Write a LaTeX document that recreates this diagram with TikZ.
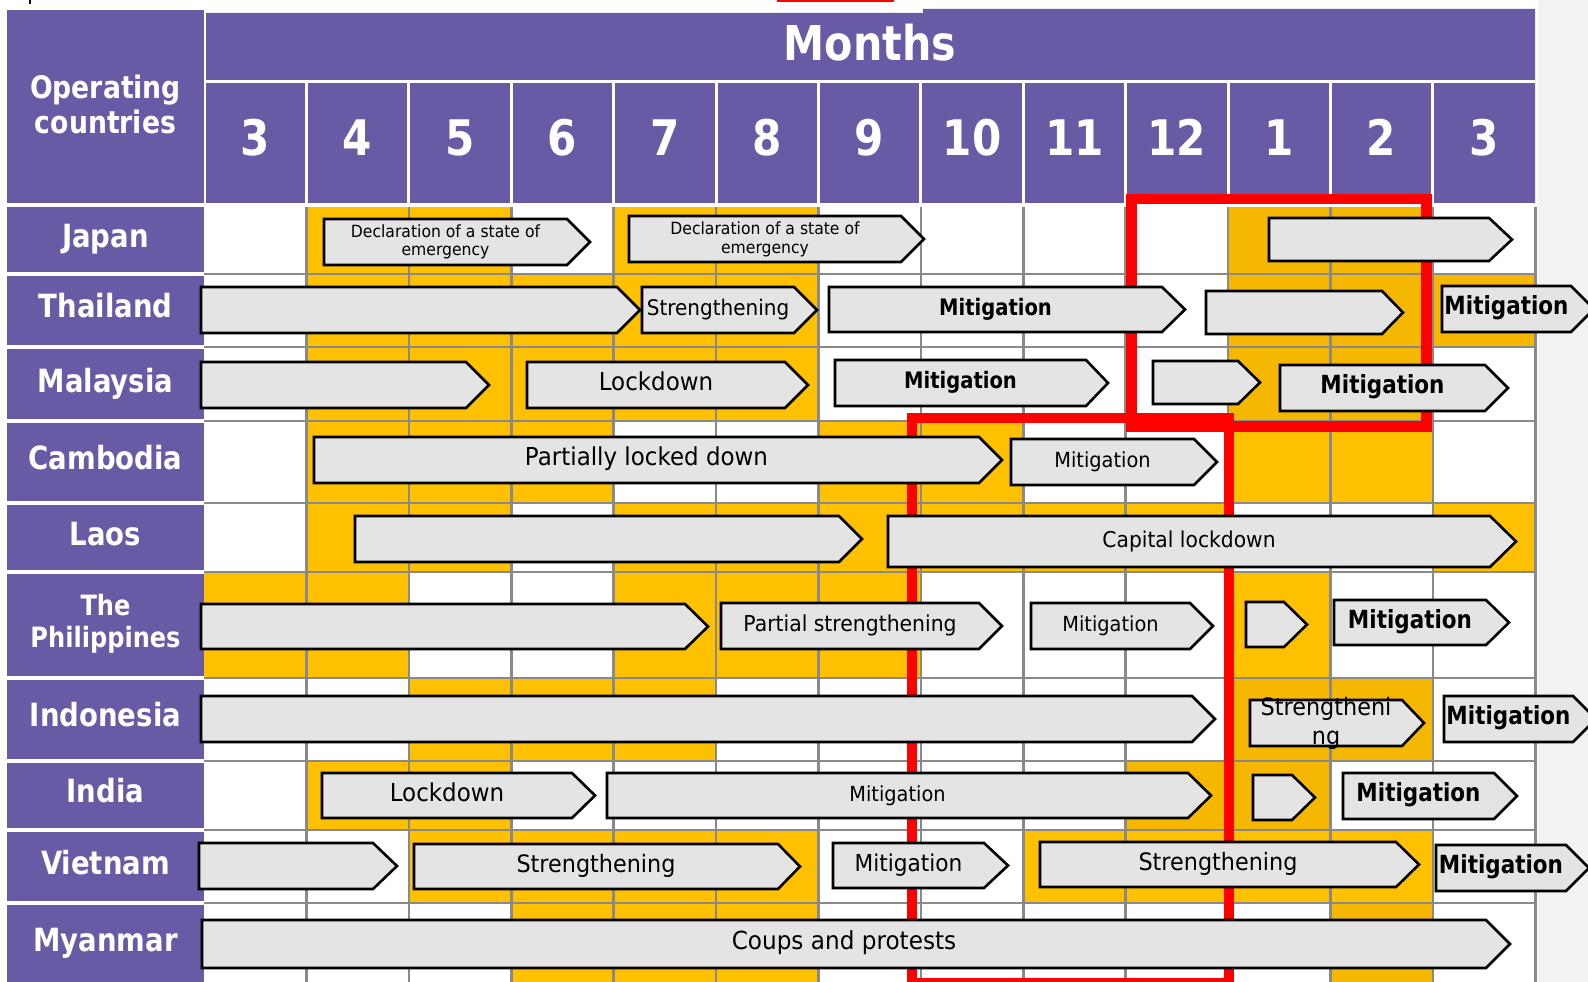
\documentclass[tikz,border=0pt]{standalone}
\usepackage{fontspec}
\setmainfont{DejaVu Sans}[FakeStretch=0.93,BoldFeatures={FakeStretch=0.86}]

\definecolor{hdrpurple}{RGB}{104,90,165}
\definecolor{gold}{RGB}{255,192,0}
\definecolor{golddark}{RGB}{245,183,0}
\definecolor{gridgray}{RGB}{137,137,137}
\definecolor{barfill}{RGB}{228,228,228}
\definecolor{alertred}{RGB}{255,0,0}
\definecolor{sidegray}{RGB}{242,242,242}

\newcommand{\fsz}[1]{\fontsize{#1}{#1}\selectfont}
% bar: [text style] name, left, body end, tip, top, bottom, text
\newcommand{\stage}[8][stagetxt]{%
  \draw[stagebar] (#3,#6) -- (#4,#6) -- (#5,{(#6+#7)/2}) -- (#4,#7) -- (#3,#7) -- cycle;
  \node[#1] (#2) at ({(#3+#4)/2},{(#6+#7)/2}) {#8};}

\begin{document}
\begin{tikzpicture}[
    x=1pt, y=-1pt,
    stagebar/.style={draw=black, fill=barfill, line width=2.6pt, line join=miter},
    stagetxt/.style={inner sep=0pt, text height=17pt, text depth=5.5pt, font=\fsz{21}},
    twoline/.style={inner sep=0pt, align=center},
    cntry/.style={inner sep=0pt, text=white, text height=24.3pt, text depth=7.7pt, font=\bfseries\fsz{32}},
    monthno/.style={inner sep=0pt, text=white, text height=37.2pt, text depth=11.8pt, font=\bfseries\fsz{49}},
    gridline/.style={draw=gridgray, line width=2.6pt},
    sep/.style={draw=white, line width=3.5pt},
    redbox/.style={draw=alertred, line width=10.5pt, line join=miter}]
  \useasboundingbox (0,0) rectangle (1588,982);
  \fill[white] (0,0) rectangle (1588,982);
  \fill[sidegray] (1538,0) rectangle (1588,982);
  \fill[alertred] (777,0) rectangle (894,2.5);
  \fill[black] (29,0) rectangle (31,4);

  % purple headers
  \fill[hdrpurple] (7,10) rectangle (204,982);
  \fill[hdrpurple] (205,13) -- (923,13) -- (923,9) -- (1535,9) -- (1535,204) -- (205,204) -- cycle;

  % highlighted months, row by row
  \foreach \ya/\yb/\ks in {205/274/{1,2,4,5}, 274/347/{1,2,3,4,5}, 347/421/{1,2,3,4,5},
      421/503/{1,2,3,6,7,10,11}, 503/572/{1,2,4,5,6,7,8,9,12}, 572/678/{0,1,4,5,6,10},
      678/761/{2,3,4}, 761/830/{1,2}, 830/903/{2,3,4,5,8,9,10,11}, 903/982/{3,4,5}}
    \foreach \k in \ks \fill[gold] ({204+102.4*\k},\ya) rectangle ({306.4+102.4*\k},\yb);
  \foreach \ya/\yb/\ks in {205/274/{10,11}, 274/347/{10,11,12}, 347/421/{10,11},
      678/761/{10,11}, 761/830/{9,10}, 903/982/{11}}
    \foreach \k in \ks \fill[golddark] ({204+102.4*\k},\ya) rectangle ({306.4+102.4*\k},\yb);

  % grid
  \foreach \k in {1,...,13} \draw[gridline] ({204+102.4*\k},207) -- ({204+102.4*\k},982);
  \foreach \y in {274,347,421,503,572,678,761,830,903} \draw[gridline] (204,\y) -- (1536,\y);

  % white separators in the headers
  \draw[white, line width=2pt] (205,8) -- (205,205);
  \draw[sep] (205,81.5) -- (1535,81.5);
  \foreach \k in {1,...,12} \draw[white, line width=3pt] ({204+102.4*\k},81.5) -- ({204+102.4*\k},205);
  \draw[sep] (7,205) -- (1535,205);
  \foreach \y in {274,347,421,503,572,678,761,830,903} \draw[sep] (7,\y) -- (204,\y);

  % red frames
  \draw[redbox] (1131.5,199) rectangle (1426.5,426.5);
  \draw[redbox, line width=10pt] (912,418) rectangle (1229,983);

  % header texts
  \node[inner sep=0pt, text=white, align=center, font=\bfseries\fontsize{31}{35}\selectfont] (opc) at (105.5,104) {Operating\\countries};
  \node[monthno, text height=36.5pt, text depth=11.5pt, font=\bfseries\fsz{48}] (mon) at (870,47.5) {Months};
  \foreach \m [count=\i from 0] in {3,4,5,6,7,8,9,10,11,12,1,2,3}
    \node[monthno] (m\i) at ({255.2+102.4*\i},142.3) {\m};

  % countries
  \node[cntry] (jp) at (105.5,239) {Japan};
  \node[cntry] (th) at (105.5,308.7) {Thailand};
  \node[cntry] (my) at (105.5,383.7) {Malaysia};
  \node[cntry] (kh) at (105.5,460.7) {Cambodia};
  \node[cntry] (la) at (105.5,536.7) {Laos};
  \node[inner sep=0pt, text=white, align=center, font=\bfseries\fontsize{28}{32}\selectfont] (ph) at (105.5,623.6) {The\\Philippines};
  \node[cntry] (id) at (105.5,718.4) {Indonesia};
  \node[cntry] (in) at (105.5,794.4) {India};
  \node[cntry] (vn) at (105.5,865.7) {Vietnam};
  \node[cntry] (mm) at (105.5,943.4) {Myanmar};

  % Japan
  \stage[twoline, font=\fontsize{16.8}{17.5}\selectfont]{jp1}{324}{567}{590}{219}{265}{Declaration of a state of\\emergency}
  \stage[twoline, font=\fontsize{16.8}{19}\selectfont]{jp2}{629}{901}{924}{216}{262}{Declaration of a state of\\emergency}
  \stage{jp3}{1269}{1489}{1512}{218}{261}{}
  % Thailand
  \stage{th1}{201}{617}{640}{287}{333}{}
  \stage[stagetxt, font=\fsz{21.5}]{th2}{642}{794}{817}{287}{333}{Strengthening}
  \stage[stagetxt, font=\bfseries\fsz{22.7}]{th3}{829}{1162}{1185}{287}{332}{Mitigation}
  \stage{th4}{1206}{1382}{1403}{291}{334}{}
  \stage[stagetxt, font=\bfseries\fsz{25}]{th5}{1442}{1571}{1594}{286}{332}{Mitigation}
  % Malaysia
  \stage{my1}{201}{466}{489}{362}{408}{}
  \stage[stagetxt, font=\fsz{24.7}]{my2}{527}{785}{808}{362}{408}{Lockdown}
  \stage[stagetxt, font=\bfseries\fsz{22.7}]{my3}{835}{1086}{1108}{360}{406}{Mitigation}
  \stage{my4}{1153}{1238}{1260}{361}{404}{}
  \stage[stagetxt, font=\bfseries\fsz{25}]{my5}{1280}{1485}{1508}{365}{411}{Mitigation}
  % Cambodia
  \stage[stagetxt, font=\fsz{24.7}]{kh1}{314}{979}{1002}{437}{483}{Partially locked down}
  \stage[stagetxt, font=\fsz{20.8}]{kh2}{1011}{1194}{1217}{439}{485}{Mitigation}
  % Laos
  \stage{la1}{355}{839}{862}{516}{562}{}
  \stage[stagetxt, font=\fsz{21.8}]{la2}{888}{1490}{1516}{516}{567}{Capital lockdown}
  % The Philippines
  \stage{ph1}{201}{685}{708}{604}{649}{}
  \stage[stagetxt, font=\fsz{21.9}]{ph2}{721}{979}{1002}{603}{649}{Partial strengthening}
  \stage[stagetxt, font=\fsz{20.8}]{ph3}{1031}{1190}{1213}{603}{649}{Mitigation}
  \stage{ph4}{1246}{1284}{1307}{602}{647}{}
  \stage[stagetxt, font=\bfseries\fsz{25}]{ph5}{1334}{1486}{1509}{600}{645}{Mitigation}
  % Indonesia
  \stage{id1}{201}{1192}{1215}{696}{742}{}
  \stage[twoline, font=\fontsize{24}{29}\selectfont]{id2}{1250}{1402}{1424}{700}{746}{Strengtheni\\ng}
  \stage[stagetxt, font=\bfseries\fsz{25}]{id3}{1444}{1573}{1596}{696}{742}{Mitigation}
  % India
  \stage[stagetxt, font=\fsz{24.7}]{in1}{322}{572}{595}{773}{818}{Lockdown}
  \stage[stagetxt, font=\fsz{20.8}]{in2}{607}{1188}{1211}{773}{818}{Mitigation}
  \stage{in3}{1253}{1292}{1315}{775}{820}{}
  \stage[stagetxt, font=\bfseries\fsz{25}]{in4}{1343}{1494}{1517}{773}{819}{Mitigation}
  % Vietnam
  \stage{vn1}{199}{373}{397}{843}{889}{}
  \stage[stagetxt, font=\fsz{24}]{vn2}{414}{778}{800}{844}{889}{Strengthening}
  \stage[stagetxt, font=\fsz{23.3}]{vn3}{833}{984}{1008}{843}{888}{Mitigation}
  \stage[stagetxt, font=\fsz{24}]{vn4}{1040}{1396}{1419}{842}{887}{Strengthening}
  \stage[stagetxt, font=\bfseries\fsz{25}]{vn5}{1436}{1566}{1589}{845}{891}{Mitigation}
  % Myanmar
  \stage[stagetxt, font=\fsz{24.9}]{mm1}{202}{1486}{1510}{920}{968}{Coups and protests}
\end{tikzpicture}
\end{document}
